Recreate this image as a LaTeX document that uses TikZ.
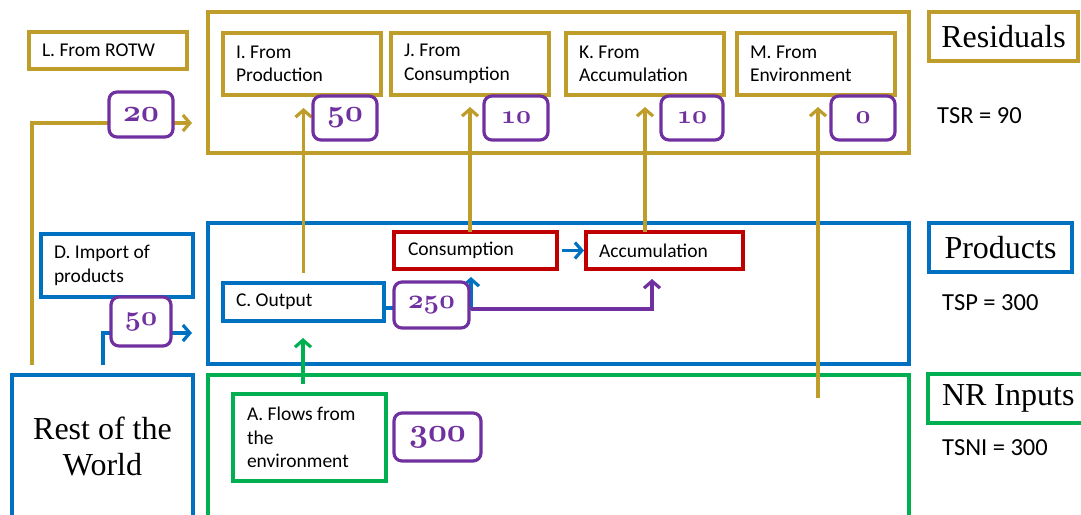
\documentclass[tikz,border=0pt]{standalone}
\usepackage{fontspec}
\setmainfont{Carlito}
\newfontfamily\headfont{Liberation Serif}
\usetikzlibrary{arrows.meta}

% old-style bold figures for the flow values
\DeclareFontFamily{OML}{oldfig}{}
\DeclareFontShape{OML}{oldfig}{b}{it}{<->cmmib10}{}
\newcommand\figs[2]{{\fontsize{#1}{#1}\usefont{OML}{oldfig}{b}{it}#2}}

\definecolor{gold}{RGB}{191,157,43}
\definecolor{sblue}{RGB}{0,112,192}
\definecolor{sgreen}{RGB}{0,176,80}
\definecolor{sred}{RGB}{192,0,0}
\definecolor{purp}{RGB}{112,48,160}

% box given by its top-left and bottom-right corners
% #1 style, #2 name, #3 x1, #4 y1, #5 x2, #6 y2, #7 inset, #8 text
\newcommand\cornerbox[8]{%
  \pgfmathsetmacro\cbw{#5-#3}%
  \pgfmathsetmacro\cbh{#6-#4}%
  \pgfmathsetmacro\cbt{#5-#3-2*#7}%
  \node[#1, minimum width=\cbw pt, minimum height=\cbh pt, text width=\cbt pt,
        inner xsep=#7 pt, inner ysep=0pt, outer sep=0pt, anchor=north west] (#2) at (#3,#4) {#8};}

\tikzset{
  frame/.style={draw, line width=3.2pt, align=flush left,
                font=\fontsize{19.5}{23.5}\selectfont},
  goldbox/.style={frame, draw=gold},
  bluebox/.style={frame, draw=sblue},
  greenbox/.style={frame, draw=sgreen},
  redbox/.style={frame, draw=sred},
  headbox/.style={frame, align=flush center, font=\headfont\fontsize{32}{36}\selectfont},
  valbox/.style={draw=purp, line width=3.2pt, rounded corners=8pt, fill=white,
                 text=purp, align=flush center},
  flow/.style={line width=3.2pt, -{Straight Barb[length=7pt,width=16pt]}},
  total/.style={anchor=base west, inner sep=0pt, font=\fontsize{24.5}{28}\selectfont},
}

\begin{document}
\begin{tikzpicture}[x=1pt, y=-1pt]
\useasboundingbox (0,0) rectangle (1081,514);
\clip (0,0) rectangle (1081,514);

% sector frames
\cornerbox{goldbox}{resid}{208}{12}{909}{153}{0}{}
\cornerbox{bluebox}{prod}{208}{223}{909}{364}{0}{}
\cornerbox{greenbox}{nri}{208}{375}{909}{518}{0}{}
\cornerbox{headbox, draw=sblue}{rotw}{12}{375}{193}{518}{4}{Rest of the\\World}

% sector titles and totals
\cornerbox{headbox, draw=gold}{tres}{929}{12}{1078}{61}{2}{Residuals}
\cornerbox{headbox, draw=sblue}{tprod}{929}{223}{1072}{272}{2}{Products}
\cornerbox{headbox, draw=sgreen, align=flush left}{tnri}{928}{374}{1100}{423}{14}{NR Inputs}
\node[total] (tsr) at (937,123) {TSR = 90};
\node[total] (tsp) at (942,310) {TSP = 300};
\node[total] (tsni) at (942,455) {TSNI = 300};

% residual categories
\cornerbox{goldbox}{L}{29}{32}{187}{69}{13}{L. From ROTW}
\cornerbox{goldbox}{I}{223}{33}{381}{95}{13}{I. From\\Production}
\cornerbox{goldbox}{J}{391}{33}{549}{95}{13}{J. From\\Consumption}
\cornerbox{goldbox}{K}{566}{33}{724}{95}{13}{K. From\\Accumulation}
\cornerbox{goldbox}{M}{737}{33}{895}{95}{13}{M. From\\Environment}

% products
\cornerbox{bluebox}{D}{41}{234}{193}{297}{13}{D. Import of\\products}
\cornerbox{bluebox}{Cout}{223}{283}{384}{321}{13}{C. Output}
\cornerbox{redbox}{cons}{394}{232}{557}{269}{14}{Consumption}
\cornerbox{redbox}{acc}{586}{232}{743}{269}{13}{Accumulation}

% natural resource inputs
\cornerbox{greenbox}{A}{233}{394}{386}{481}{14}{A. Flows from\\the\\environment}

% turning points and free ends of the flows
\coordinate (rotwtop) at (32,365);
\coordinate (gturn) at (32,123);
\coordinate (mfoot) at (818,398);
\coordinate (dfoot) at (103,365);
\coordinate (dturn) at (103,333);
\coordinate (cturn) at (471,308);
\coordinate (pturn) at (652,309);
\coordinate (afoot) at (303,384);

% residual flows
\draw[flow, gold, shorten >=16pt] (rotwtop) -- (gturn) -- (gturn -| resid.west);
\draw[flow, gold, shorten >=13pt] ([yshift=10pt]Cout.north) -- (Cout.north |- I.south);
\draw[flow, gold, shorten >=12pt] (J.south |- cons.north) -- (J.south);
\draw[flow, gold, shorten >=12pt] (K.south |- acc.north) -- (K.south);
\draw[flow, gold, shorten >=12pt] (mfoot) -- (mfoot |- M.south);

% product flows
\draw[flow, sblue, shorten >=16pt] (dfoot) -- (dturn) -- (dturn -| prod.west);
\draw[flow, sblue, shorten >=8pt] (Cout.east |- cturn) -- (cturn) -- (cturn |- cons.south);
\draw[flow, sblue, shorten <=5pt, shorten >=2pt] (cons.east) -- (acc.west);
\draw[flow, purp, shorten >=10pt] (cturn |- pturn) -- (pturn) -- (pturn |- acc.south);

% input flow
\draw[flow, sgreen, shorten >=17pt] (afoot) -- (afoot |- Cout.south);

% flow values
\cornerbox{valbox}{v20}{109}{92}{173}{137}{2}{\figs{31}{20}}
\cornerbox{valbox}{v50i}{313}{96}{377}{140}{2}{\figs{31}{50}}
\cornerbox{valbox}{v10j}{484}{96}{548}{140}{2}{\figs{26}{10}}
\cornerbox{valbox}{v10k}{661}{96}{723}{140}{2}{\figs{26}{10}}
\cornerbox{valbox}{v0}{831}{96}{895}{140}{2}{\figs{26}{0}}
\cornerbox{valbox}{v50d}{111}{297}{171}{346}{2}{\figs{28}{50}}
\cornerbox{valbox}{v250}{394}{282}{469}{328}{2}{\figs{27}{250}}
\cornerbox{valbox}{v300}{394}{413}{481}{461}{2}{\figs{33}{300}}
\end{tikzpicture}
\end{document}
